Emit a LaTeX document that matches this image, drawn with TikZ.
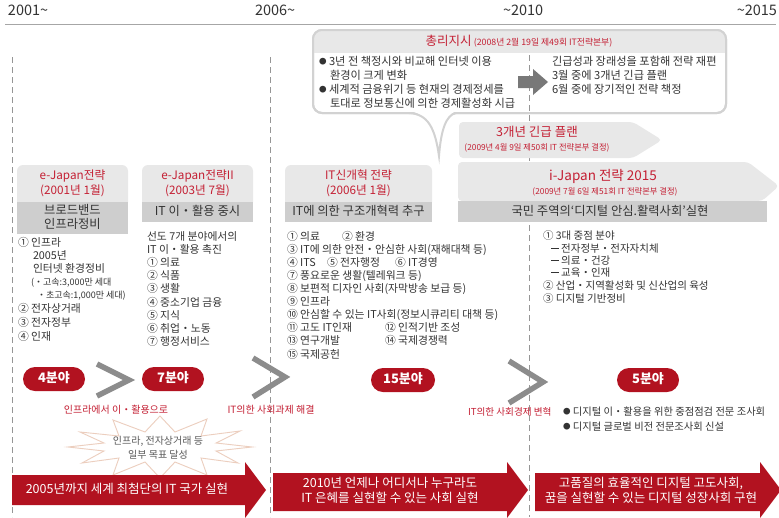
\documentclass[tikz,border=0pt]{standalone}
\usepackage{fontspec}
\setmainfont{Noto Sans CJK KR}
\definecolor{crimson}{RGB}{178,18,32}
\definecolor{redtxt}{RGB}{196,32,52}
\definecolor{txt}{RGB}{51,51,51}
\definecolor{hdrgray}{RGB}{232,232,232}
\definecolor{bandgray}{RGB}{206,206,206}
\definecolor{chev}{RGB}{140,140,140}
\definecolor{dashgray}{RGB}{150,150,150}
\definecolor{blockgray}{RGB}{120,120,120}
\definecolor{starline}{RGB}{236,206,190}
\newcommand{\smbul}{\raisebox{0.15em}{\fontsize{7.5}{8}\selectfont ●}}
\newcommand{\thickdash}{\raisebox{0.32em}{\rule{0.75em}{0.13em}}}
\tikzset{
 tx/.style={inner sep=0pt, outer sep=0pt, text height=0.88em, text depth=0.12em, text=txt},
 li/.style={tx, anchor=west, font=\fontsize{10.8}{12}\selectfont},
 li4/.style={tx, anchor=west, font=\fontsize{10.5}{12}\selectfont},
 co/.style={tx, anchor=west, font=\fontsize{11.2}{13}\selectfont},
 sm/.style={tx, anchor=west, font=\fontsize{9}{10}\selectfont},
 rhead/.style={tx, text=redtxt, font=\fontsize{11.7}{13}\selectfont},
 rsmall/.style={tx, text=redtxt, font=\fontsize{8.3}{10}\selectfont},
 rbig/.style={tx, text=redtxt, font=\fontsize{12.5}{14}\selectfont},
 bandtxt/.style={tx, font=\fontsize{12.3}{14}\selectfont},
 pill/.style={fill=crimson, text=white, rounded corners=12pt, minimum width=62pt, minimum height=24pt, inner sep=0pt, text height=0.88em, text depth=0.12em, font=\bfseries\fontsize{13}{14}\selectfont},
 rlab/.style={tx, text=redtxt, font=\fontsize{10}{12}\selectfont},
 wtx/.style={tx, text=white, font=\fontsize{12.5}{14}\selectfont},
 startx/.style={tx, text={rgb,255:red,90;green,90;blue,90}, font=\fontsize{10}{12}\selectfont},
 dl/.style={draw=dashgray, line width=0.8pt, dash pattern=on 6pt off 4pt},
 chevron/.style={draw=chev, line width=5.5pt},
 yeartx/.style={tx, font=\fontsize{14.5}{16}\selectfont},
 bord/.style={draw=gray!35, line width=2pt}
}
\begin{document}
\begin{tikzpicture}[x=1pt,y=-1pt]
\useasboundingbox (0,0) rectangle (779,517);
\clip (0,0) rectangle (779,517);
\fill[white] (0,0) rectangle (779,517);

% years
\node[yeartx, anchor=west] (y1) at (8,12) {2001\textasciitilde};
\node[yeartx, anchor=west] (y2) at (255,12) {2006\textasciitilde};
\node[yeartx, anchor=west] (y3) at (503,12) {\textasciitilde2010};
\node[yeartx, anchor=east] (y4) at (777,12) {\textasciitilde2015};
\draw[gray!70, line width=0.9pt] (5,24) -- (776,24);

% callout box
\draw[bord, fill=white, rounded corners=9pt] (313,30) rectangle (726,113);
\begin{scope}
\clip[rounded corners=9pt] (313,30) rectangle (726,113);
\fill[hdrgray] (313,30) rectangle (726,53);
\end{scope}
\draw[bord, rounded corners=9pt] (313,30) rectangle (726,113);
\fill[white] (409,111) .. controls (428,114) and (435,128) .. (439,156) .. controls (441,130) and (446,115) .. (456,111) -- cycle;
\draw[bord] (409,113) .. controls (428,114) and (435,128) .. (439,156) .. controls (441,130) and (446,115) .. (456,113);

% dashed period lines
\draw[dl] (12,57) -- (12,517);
\draw[dl] (270,57) -- (270,517);
\draw[dl] (529,55) -- (529,517);

\node[rbig] (chd) at (519,42) {총리지시\,{\fontsize{8.8}{10}\selectfont (2008년 2월 19일 제49회 IT전략본부)}};
\node[co] (k1) at (319,62) {\smbul\ 3년 전 책정시와 비교해 인터넷 이용};
\node[co] (k2) at (330,76) {환경이 크게 변화};
\node[co] (k3) at (319,90) {\smbul\ 세계적 금융위기 등 현재의 경제정세를};
\node[co] (k4) at (330,104) {토대로 정보통신에 의한 경제활성화 시급};
\fill[blockgray] (518,76) -- (533,76) -- (533,69) -- (548,82) -- (533,95) -- (533,88) -- (518,88) -- cycle;
\node[co] (k5) at (552,62) {긴급성과 장래성을 포함해 전략 재편};
\node[co] (k6) at (552,76) {3월 중에 3개년 긴급 플랜};
\node[co] (k7) at (552,90) {6월 중에 장기적인 전략 책정};

% 3-year plan arrow
\fill[hdrgray, rounded corners=4pt] (459,158) -- (459,122) -- (633,122) -- (662,140) -- (633,158) -- cycle;
\node[rbig] (p3a) at (537,133) {3개년 긴급 플랜};
\node[rsmall] (p3b) at (537,147) {(2009년 4월 9일 제50회 IT 전략본부 결정)};

% i-Japan arrow
\fill[hdrgray, rounded corners=4pt] (458,201) -- (458,162) -- (748,162) -- (779,186) -- (762,201) -- cycle;
\fill[bandgray] (458,201) rectangle (767,222);
\node[rbig, font=\fontsize{13.5}{15}\selectfont] (ij1) at (603,177) {i-Japan 전략 2015};
\node[rsmall] (ij2) at (605,191) {(2009년 7월 6일 제51회 IT 전략본부 결정)};
\node[bandtxt] (ij3) at (610,211.5) {국민 주역의‘디지털 안심.활력사회’실현};

% column header boxes
\fill[hdrgray, rounded corners=6pt] (17,165) rectangle (128,208);
\fill[bandgray] (17,202) rectangle (128,234);
\node[rhead] (h1a) at (72.5,176) {e-Japan전략};
\node[rhead] (h1b) at (72.5,191) {(2001년 1월)};
\node[bandtxt] (b1a) at (72.5,211) {브로드밴드};
\node[bandtxt] (b1b) at (72.5,225) {인프라정비};

\fill[hdrgray, rounded corners=6pt] (142,165) rectangle (253,208);
\fill[bandgray] (142,202) rectangle (253,222);
\node[rhead] (h2a) at (197.5,176) {e-Japan전략II};
\node[rhead] (h2b) at (197.5,191) {(2003년 7월)};
\node[bandtxt] (b2) at (197.5,212) {IT 이・활용 중시};

\fill[hdrgray, rounded corners=6pt] (285,165) rectangle (432,208);
\fill[bandgray] (285,202) rectangle (432,222);
\node[rhead] (h3a) at (358.5,176) {IT신개혁 전략};
\node[rhead] (h3b) at (358.5,191) {(2006년 1월)};
\node[bandtxt] (b3) at (358.5,212) {IT에 의한 구조개혁력 추구};

% column 1 list
\node[li] (c1a) at (18,243) {① 인프라};
\node[li] (c1b) at (33,256) {2005년};
\node[li] (c1c) at (33,269) {인터넷 환경정비};
\node[sm] (c1d) at (31,282) {(・고속:3,000만 세대};
\node[sm] (c1e) at (37,295) {・초고속:1,000만 세대)};
\node[li] (c1f) at (18,309) {② 전자상거래};
\node[li] (c1g) at (18,323) {③ 전자정부};
\node[li] (c1h) at (18,337) {④ 인재};

% column 2 list
\node[li] (c2a) at (147,237) {선도 7개 분야에서의};
\node[li] (c2b) at (147,250) {IT 이・활용 촉진};
\node[li] (c2c) at (147,263) {① 의료};
\node[li] (c2d) at (147,276) {② 식품};
\node[li] (c2e) at (147,289) {③ 생활};
\node[li] (c2f) at (147,303) {④ 중소기업 금융};
\node[li] (c2g) at (147,316) {⑤ 지식};
\node[li] (c2h) at (147,329) {⑥ 취업・노동};
\node[li] (c2i) at (147,342) {⑦ 행정서비스};

% column 3 list
\node[li] (c3a) at (287,237) {① 의료};
\node[li] (c3a2) at (342,237) {② 환경};
\node[li] (c3b) at (287,250) {③ IT에 의한 안전・안심한 사회(재해대책 등)};
\node[li] (c3c) at (287,263) {④ ITS};
\node[li] (c3c2) at (327,263) {⑤ 전자행정};
\node[li] (c3c3) at (395,263) {⑥ IT경영};
\node[li] (c3d) at (287,276) {⑦ 풍요로운 생활(텔레워크 등)};
\node[li] (c3e) at (287,289) {⑧ 보편적 디자인 사회(자막방송 보급 등)};
\node[li] (c3f) at (287,302) {⑨ 인프라};
\node[li] (c3g) at (287,315) {⑩ 안심할 수 있는 IT사회(정보시큐리티 대책 등)};
\node[li] (c3h) at (287,328) {⑪ 고도 IT인재};
\node[li] (c3h2) at (385,328) {⑫ 인적기반 조성};
\node[li] (c3i) at (287,341) {⑬ 연구개발};
\node[li] (c3i2) at (385,341) {⑭ 국제경쟁력};
\node[li] (c3j) at (287,355) {⑮ 국제공헌};

% column 4 list
\node[li4] (c4a) at (543,236) {① 3대 중점 분야};
\node[li4] (c4b) at (551,249) {\thickdash\ 전자정부・전자자치체};
\node[li4] (c4c) at (551,261) {\thickdash\ 의료・건강};
\node[li4] (c4d) at (551,273) {\thickdash\ 교육・인재};
\node[li4] (c4e) at (543,286) {② 산업・지역활성화 및 신산업의 육성};
\node[li4] (c4f) at (543,299) {③ 디지털 기반정비};

% pills
\node[pill] (p1) at (54,379) {4분야};
\node[pill] (p2) at (173,379) {7분야};
\node[pill, minimum width=64pt] (p3) at (403,380) {15분야};
\node[pill] (p4) at (648,380) {5분야};

% chevrons
\draw[chevron] (97,364) -- (129,380) -- (97,396);
\draw[chevron] (253,358) -- (285,377) -- (253,397);
\draw[chevron] (509,361) -- (543,382) -- (509,403);

% red labels
\node[rlab] (l1) at (116,410) {인프라에서 이・활용으로};
\node[rlab] (l2) at (271,410) {IT의한 사회과제 해결};
\node[rlab, anchor=west, font=\fontsize{9.6}{12}\selectfont] (l3) at (468,412) {IT의한 사회경제 변혁};
\node[li4, font=\fontsize{10.3}{12}\selectfont] (bl1) at (563,412) {\smbul\ 디지털 이・활용을 위한 중점점검 전문 조사회};
\node[li4, font=\fontsize{10.3}{12}\selectfont] (bl2) at (563,427) {\smbul\ 디지털 글로벌 비전 전문조사회 신설};

% star burst
\draw[draw=starline, line width=0.9pt, fill=white]
 (252,447) -- (216,443) -- (240,431) -- (201,436) -- (207,419) -- (175,432) -- (160,416)
 -- (145,432) -- (113,420) -- (119,436) -- (80,432) -- (104,443) -- (68,447)
 -- (104,451) -- (82,463) -- (119,458) -- (113,475) -- (145,462) -- (160,478)
 -- (175,462) -- (207,475) -- (201,458) -- (238,463) -- (216,451) -- cycle;
\node[startx] (s1) at (158,441) {인프라, 전자상거래 등};
\node[startx] (s2) at (158,455) {일부 목표 달성};

% bottom arrows
\fill[crimson] (12,475) -- (245,475) -- (245,462) -- (266,490) -- (245,518) -- (245,505) -- (12,505) -- cycle;
\fill[crimson] (273,473) -- (507,473) -- (507,462) -- (528,490) -- (507,518) -- (507,511) -- (273,511) -- cycle;
\fill[crimson] (535,473) -- (760,473) -- (760,462) -- (781,490) -- (760,518) -- (760,511) -- (535,511) -- cycle;
\node[wtx] (a1) at (127,490) {2005년까지 세계 최첨단의 IT 국가 실현};
\node[wtx] (a2a) at (390,484) {2010년 언제나 어디서나 누구라도};
\node[wtx] (a2b) at (390,499) {IT 은혜를 실현할 수 있는 사회 실현};
\node[wtx] (a3a) at (651,484) {고품질의 효율적인 디지털 고도사회,};
\node[wtx] (a3b) at (651,499) {꿈을 실현할 수 있는 디지털 성장사회 구현};
\end{tikzpicture}
\end{document}
